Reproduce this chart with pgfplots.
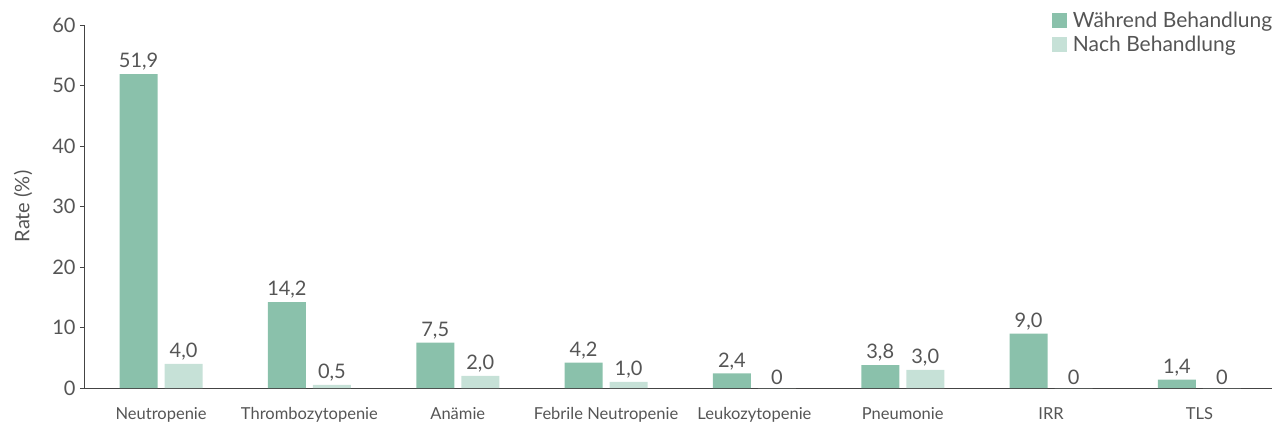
\documentclass[border=0pt]{standalone}
\usepackage{fontspec}
\setmainfont{Lato}
\usepackage{pgfplots}
\pgfplotsset{compat=1.18}
\usepackage{pgfplotstable}
\definecolor{dark}{HTML}{8AC1AB}
\definecolor{light}{HTML}{C6E1D7}
\definecolor{txt}{HTML}{555555}
\definecolor{axl}{HTML}{444444}

\pgfplotstableread{
x y lab
0 51.9 51,9
1 14.2 14,2
2 7.5 7,5
3 4.2 4,2
4 2.4 2,4
5 3.8 3,8
6 9.0 9,0
7 1.4 1,4
}\during
\pgfplotstableread{
x y lab
0 4.0 4,0
1 0.5 0,5
2 2.0 2,0
3 1.0 1,0
4 0 0
5 3.0 3,0
6 0 0
7 0 0
}\after

\begin{document}
\begin{tikzpicture}
\begin{axis}[
  scale only axis,
  width=1187pt, height=363pt,
  xmin=-0.513, xmax=7.49,
  ymin=0, ymax=60,
  axis lines=left,
  axis line style={axl, line width=1pt, -},
  ytick={0,10,...,60},
  xtick={0,...,7},
  xticklabels={Neutropenie,Thrombozytopenie,Anämie,Febrile Neutropenie,Leukozytopenie,Pneumonie,IRR,TLS},
  x tick style={draw=none},
  y tick style={axl, line width=0.8pt},
  tick align=outside,
  major tick length=5pt,
  /pgf/number format/assume math mode=true,
  yticklabel style={font=\fontsize{20}{22}\selectfont, text=txt, xshift=-1pt},
  xticklabel style={font=\fontsize{16.5}{18}\selectfont, text=txt, yshift=-11pt},
  ylabel={Rate (\%)},
  ylabel style={font=\fontsize{20}{22}\selectfont, text=txt, yshift=13pt},
  ybar, bar width=38pt,
  point meta=explicit symbolic,
  nodes near coords={\pgfplotspointmeta},
  nodes near coords style={font=\fontsize{20}{22}\selectfont, text=txt, anchor=south, yshift=0pt},
  legend style={draw=none, fill=none, at={(rel axis cs:1.002,1.042)}, anchor=north east,
     font=\fontsize{21}{23}\selectfont, text=txt, row sep=3pt, inner sep=0pt},
  legend cell align=left,
  legend image code/.code={\fill[#1] (0pt,-7.5pt) rectangle (15pt,7.5pt); \path (19pt,0pt);},
]
\addplot[fill=dark, draw=none, bar shift=-22.5pt] table[x=x, y=y, meta=lab] {\during};
\addplot[fill=light, draw=none, bar shift=22.5pt] table[x=x, y=y, meta=lab] {\after};
\legend{Während Behandlung, Nach Behandlung}
\end{axis}
\pgfresetboundingbox
\path (-85pt,-41pt) rectangle (1187pt,388pt);
\end{tikzpicture}
\end{document}
